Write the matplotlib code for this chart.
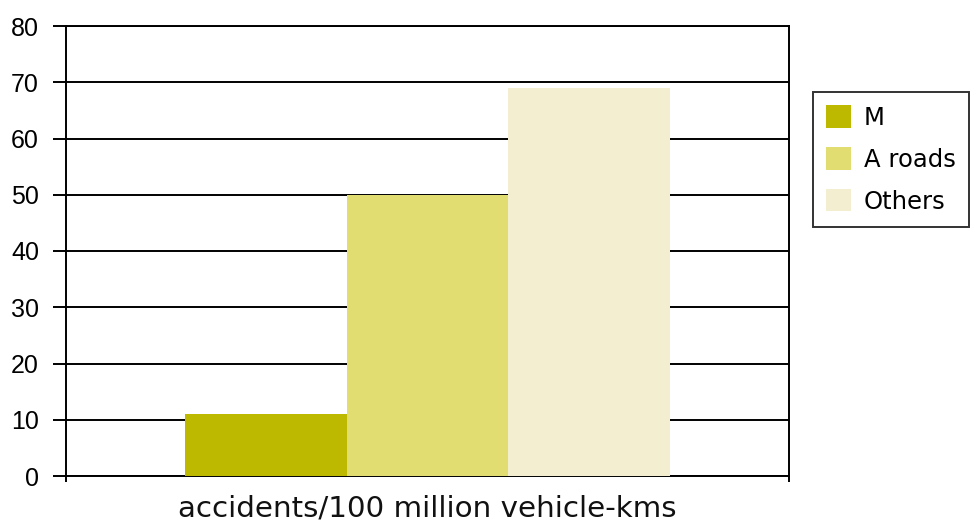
import matplotlib
matplotlib.use("Agg")
import matplotlib.pyplot as plt
import numpy as np

categories = ["accidents/100 million vehicle-kms"]
series = ["M", "A roads", "Others"]
values = [11, 50, 69]
colors = ["#bdb800", "#e2dd70", "#f4eed0"]
yticks = [0, 10, 20, 30, 40, 50, 60, 70, 80]

plt.rcParams['font.family'] = ['Liberation Sans', 'DejaVu Sans']

fig = plt.figure(figsize=(9.78, 5.25), dpi=100)
ax = fig.add_axes([66/978, 1-476/525, (789-66)/978, (476-26)/525])

width = 0.224
n = len(series)
offsets = (np.arange(n) - (n-1)/2) * width
for i, (s, v, c) in enumerate(zip(series, values, colors)):
    ax.bar(0 + offsets[i], v, width=width, color=c, label=s, zorder=3, linewidth=0)

ax.set_xlim(-0.5, 0.5)
ax.set_ylim(0, 80)
ax.set_yticks(yticks)
ax.set_yticklabels([str(t) for t in yticks], fontsize=18, color='#111111')
ax.yaxis.grid(True, color='black', linewidth=1.4, zorder=1)
ax.set_axisbelow(True)
ax.tick_params(axis='y', length=9.5, width=1.4, pad=10, colors='black')
ax.set_xticks([-0.5, 0.5])
ax.set_xticklabels(["", ""])
ax.tick_params(axis='x', length=4, width=1.4, direction='out')
ax.set_xlabel(categories[0], fontsize=21.2, labelpad=6,
              family=['DejaVu Sans'], color='#111111')
for sp in ax.spines.values():
    sp.set_linewidth(1.4)
    sp.set_color('black')

leg = fig.legend(loc='upper left', bbox_to_anchor=(813/978, 1-92/525),
                 prop={'family': 'DejaVu Sans', 'size': 17.5},
                 frameon=True, fancybox=False, edgecolor='black',
                 handlelength=1.03, handleheight=1.03, labelspacing=0.72,
                 handletextpad=0.5, borderpad=0.55, borderaxespad=0)
leg.get_frame().set_linewidth(1.4)

fig.savefig("out.png", dpi=100)
